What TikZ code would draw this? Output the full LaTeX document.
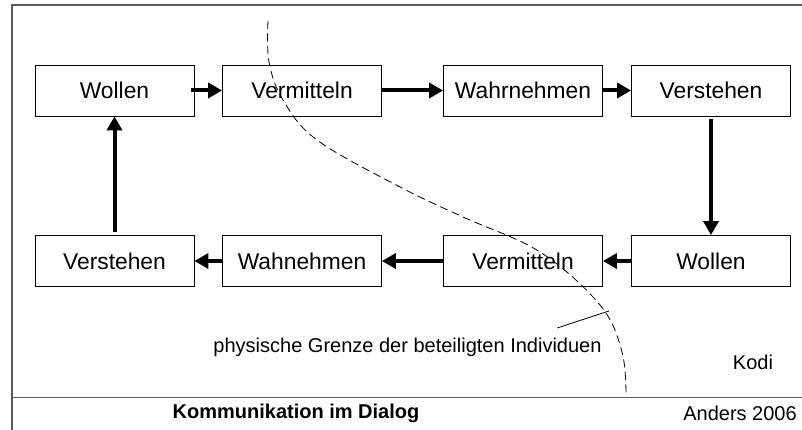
\documentclass[tikz,border=0pt]{standalone}
\usepackage{fontspec}
\setmainfont{Liberation Sans}
\usetikzlibrary{arrows.meta}
\tikzset{
  stepbox/.style={draw, line width=0.8pt, minimum width=159pt, minimum height=51pt, inner sep=0pt, font=\fontsize{22.8}{27}\selectfont},
  arr/.style={line width=4pt, -{Triangle[length=14pt,width=15pt]}},
  frame/.style={draw=black!65, line width=1.2pt},
  small/.style={font=\fontsize{20}{24}\selectfont, inner sep=0pt},
  boundary/.style={dash pattern=on 8pt off 4.5pt, line width=0.8pt}
}
\begin{document}
\begin{tikzpicture}[x=1pt,y=-1pt]
\useasboundingbox (0,0) rectangle (802,430);
% frame
\draw[frame] (12,431) -- (12,5) -- (802,5);
\draw[frame] (12,397.5) -- (802,397.5);
% boxes
\node[stepbox] (w1) at (114.5,90.5) {Wollen};
\node[stepbox] (v1) at (302,90.5) {Vermitteln};
\node[stepbox] (n1) at (523,90.5) {Wahrnehmen};
\node[stepbox] (s1) at (711,90.5) {Verstehen};
\node[stepbox] (w2) at (711,261) {Wollen};
\node[stepbox] (v2) at (523,261) {Vermitteln};
\node[stepbox] (n2) at (302,261) {Wahnehmen};
\node[stepbox] (s2) at (114.5,261) {Verstehen};
% arrows
\draw[arr] ([xshift=-3pt]w1.east) -- (v1.west);
\draw[arr] ([xshift=-1pt]v1.east) -- (n1.west);
\draw[arr] ([xshift=-1pt]n1.east) -- (s1.west);
\draw[arr] ([yshift=-3pt]s1.south) -- (w2.north);
\draw[arr] (w2.west) -- (v2.east);
\draw[arr] (v2.west) -- (n2.east);
\draw[arr] (n2.west) -- (s2.east);
\draw[arr] ([yshift=3pt]s2.north) -- (w1.south);
% boundary
\draw[boundary] plot[smooth, tension=0.6] coordinates {(268,21) (269,62) (283,100) (317,140) (400,187) (463,217) (540,252) (600,305) (622,352) (626,397)};
% label
\node[small] (grenze) at (407.5,347) {physische Grenze der beteiligten Individuen};
\coordinate (lstart) at (557,328);
\coordinate (lend) at (609,311);
\draw[line width=0.8pt] (lstart) -- (lend);
\node[small] (kodi) at (753,362) {Kodi};
\node[small, font=\fontsize{20}{24}\selectfont\bfseries] (title) at (296,413) {Kommunikation im Dialog};
\node[small] (author) at (740,413) {Anders 2006};
\end{tikzpicture}
\end{document}
